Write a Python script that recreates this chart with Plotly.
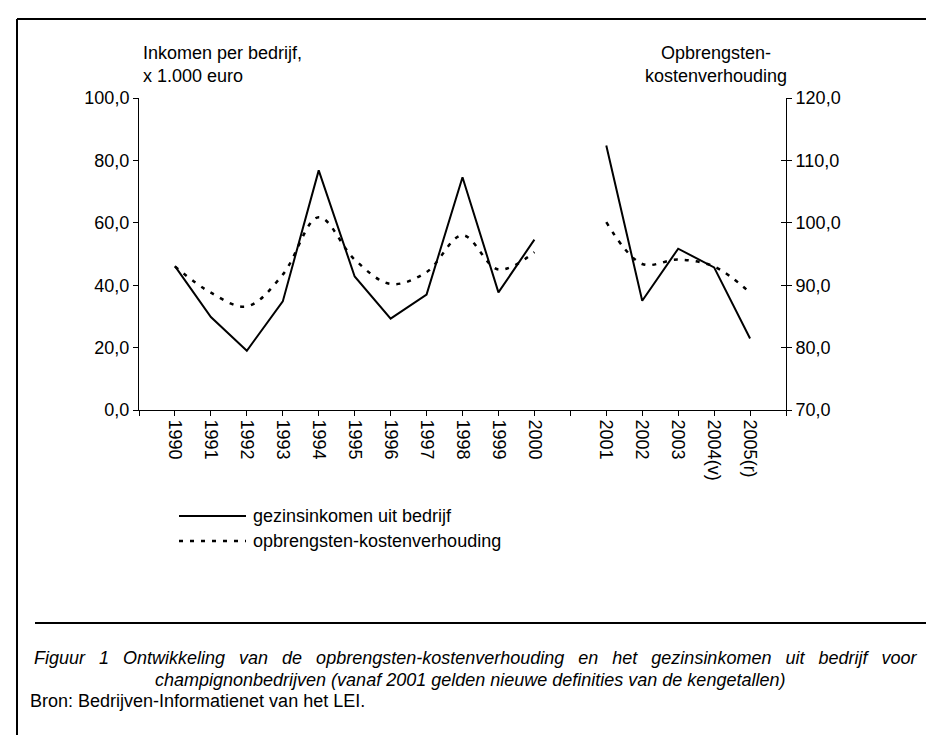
import plotly.graph_objects as go

# ---- data ----
categories = ["1990", "1991", "1992", "1993", "1994", "1995", "1996", "1997",
              "1998", "1999", "2000", "", "2001", "2002", "2003", "2004(v)", "2005(r)"]
inkomen = [46.1, 29.8, 19.0, 34.8, 76.8, 42.8, 29.3, 37.0, 74.6, 37.7, 54.6,
           None, 84.8, 35.0, 51.7, 45.7, 22.9]
ok_verhouding = [93.0, 88.8, 86.6, 91.7, 100.9, 94.1, 90.2, 92.1, 98.0, 92.5, 95.3,
                 None, 100.1, 93.4, 94.1, 93.0, 88.8]
left_ticks = [0, 20, 40, 60, 80, 100]
left_ticktext = ["0,0", "20,0", "40,0", "60,0", "80,0", "100,0"]
right_ticks = [70, 80, 90, 100, 110, 120]
right_ticktext = ["70,0", "80,0", "90,0", "100,0", "110,0", "120,0"]

FONT = "Liberation Sans Narrow, Liberation Sans, Arial Narrow, sans-serif"

W, H = 934, 735
PL, PR, PT, PB = 131, 778, 90, 402   # plot area in pixels


def fx(px):
    return (px - PL) / (PR - PL)


def fy(py):
    return (PB - py) / (PB - PT)


xpos = list(range(1, len(categories) + 1))
seg1 = slice(0, 11)
seg2 = slice(12, 17)
DOT = "4px,7px"

fig = go.Figure()
for s in [seg1, seg2]:
    fig.add_trace(go.Scatter(
        x=xpos[s], y=inkomen[s], mode="lines", name="gezinsinkomen uit bedrijf",
        showlegend=False, line=dict(color="black", width=2), yaxis="y"))
for s in [seg1, seg2]:
    fig.add_trace(go.Scatter(
        x=xpos[s], y=ok_verhouding[s], mode="lines", name="opbrengsten-kostenverhouding",
        showlegend=False, line=dict(color="black", width=2.5, dash=DOT,
                                    shape="spline", smoothing=1), yaxis="y2"))

tickvals_x = list(range(0, len(categories) + 2))
ticktext_x = [""] + categories + [""]

fig.update_layout(
    width=W, height=H,
    margin=dict(l=PL, r=W - PR, t=PT, b=H - PB, pad=0),
    paper_bgcolor="white", plot_bgcolor="white",
    font=dict(family=FONT, size=18, color="black"),
    showlegend=False,
    xaxis=dict(range=[0, len(categories) + 1], tickmode="array", tickvals=tickvals_x,
               ticktext=ticktext_x, tickangle=90, ticks="outside", ticklen=5,
               tickcolor="black", showline=True, linecolor="black", linewidth=1,
               showgrid=False, zeroline=False, fixedrange=True,
               tickfont=dict(size=18)),
    yaxis=dict(range=[0, 100], tickmode="array", tickvals=left_ticks,
               ticktext=left_ticktext, ticks="outside", ticklen=5, tickcolor="black",
               showline=True, linecolor="black", linewidth=1, showgrid=False,
               zeroline=False, tickfont=dict(size=18)),
    yaxis2=dict(range=[70, 120], tickmode="array", tickvals=right_ticks,
                ticktext=right_ticktext, ticks="outside", ticklen=5, tickcolor="black",
                showline=True, linecolor="black", linewidth=1, showgrid=False,
                zeroline=False, overlaying="y", side="right", tickfont=dict(size=18)),
    yaxis3=dict(range=[70, 120], tickmode="array", tickvals=right_ticks,
                ticks="inside", ticklen=5, tickcolor="black", showticklabels=False,
                showline=False, showgrid=False, zeroline=False,
                overlaying="y", side="right"),
)
fig.add_trace(go.Scatter(x=[None], y=[None], yaxis="y3", showlegend=False, hoverinfo="skip"))

caption1 = "Figuur 1 Ontwikkeling van de opbrengsten-kostenverhouding en het gezinsinkomen uit bedrijf voor"
caption1_just = caption1.replace(" ", " \u2002")

ann = []
ann.append(dict(text="Inkomen per bedrijf,<br>x 1.000 euro", x=fx(133), y=fy(33),
                xanchor="left", yanchor="top", align="left", showarrow=False,
                font=dict(size=18)))
ann.append(dict(text="Opbrengsten-<br>kostenverhouding", x=fx(708), y=fy(33),
                xanchor="center", yanchor="top", align="center", showarrow=False,
                font=dict(size=18)))
ann.append(dict(text="gezinsinkomen uit bedrijf", x=fx(243), y=fy(508),
                xanchor="left", yanchor="middle", showarrow=False, font=dict(size=18)))
ann.append(dict(text="opbrengsten-kostenverhouding", x=fx(243), y=fy(533),
                xanchor="left", yanchor="middle", showarrow=False, font=dict(size=18)))
ann.append(dict(text="<i>" + caption1_just + "</i>",
                x=fx(467), y=fy(650), xanchor="center", yanchor="middle", showarrow=False,
                font=dict(size=18)))
ann.append(dict(text="<i>champignonbedrijven (vanaf 2001 gelden nieuwe definities van de kengetallen)</i>",
                x=fx(462), y=fy(672), xanchor="center", yanchor="middle", showarrow=False,
                font=dict(size=18)))
ann.append(dict(text="Bron: Bedrijven-Informatienet van het LEI.",
                x=fx(20), y=fy(693), xanchor="left", yanchor="middle", showarrow=False,
                font=dict(size=18)))
for a in ann:
    a.update(xref="paper", yref="paper")
fig.update_layout(annotations=ann)

shapes = [
    dict(type="line", x0=fx(171), x1=fx(238), y0=fy(508), y1=fy(508),
         line=dict(color="black", width=2)),
    dict(type="line", x0=fx(171), x1=fx(238), y0=fy(533), y1=fy(533),
         line=dict(color="black", width=2.5, dash=DOT)),
    dict(type="line", x0=fx(27), x1=fx(927), y0=fy(615), y1=fy(615),
         line=dict(color="black", width=2)),
    dict(type="line", x0=fx(9), x1=fx(934), y0=fy(11), y1=fy(11),
         line=dict(color="black", width=2)),
    dict(type="line", x0=fx(9), x1=fx(9), y0=fy(11), y1=fy(735),
         line=dict(color="black", width=2)),
]
for s in shapes:
    s.update(xref="paper", yref="paper")
fig.update_layout(shapes=shapes)

fig.write_html("out.html")
